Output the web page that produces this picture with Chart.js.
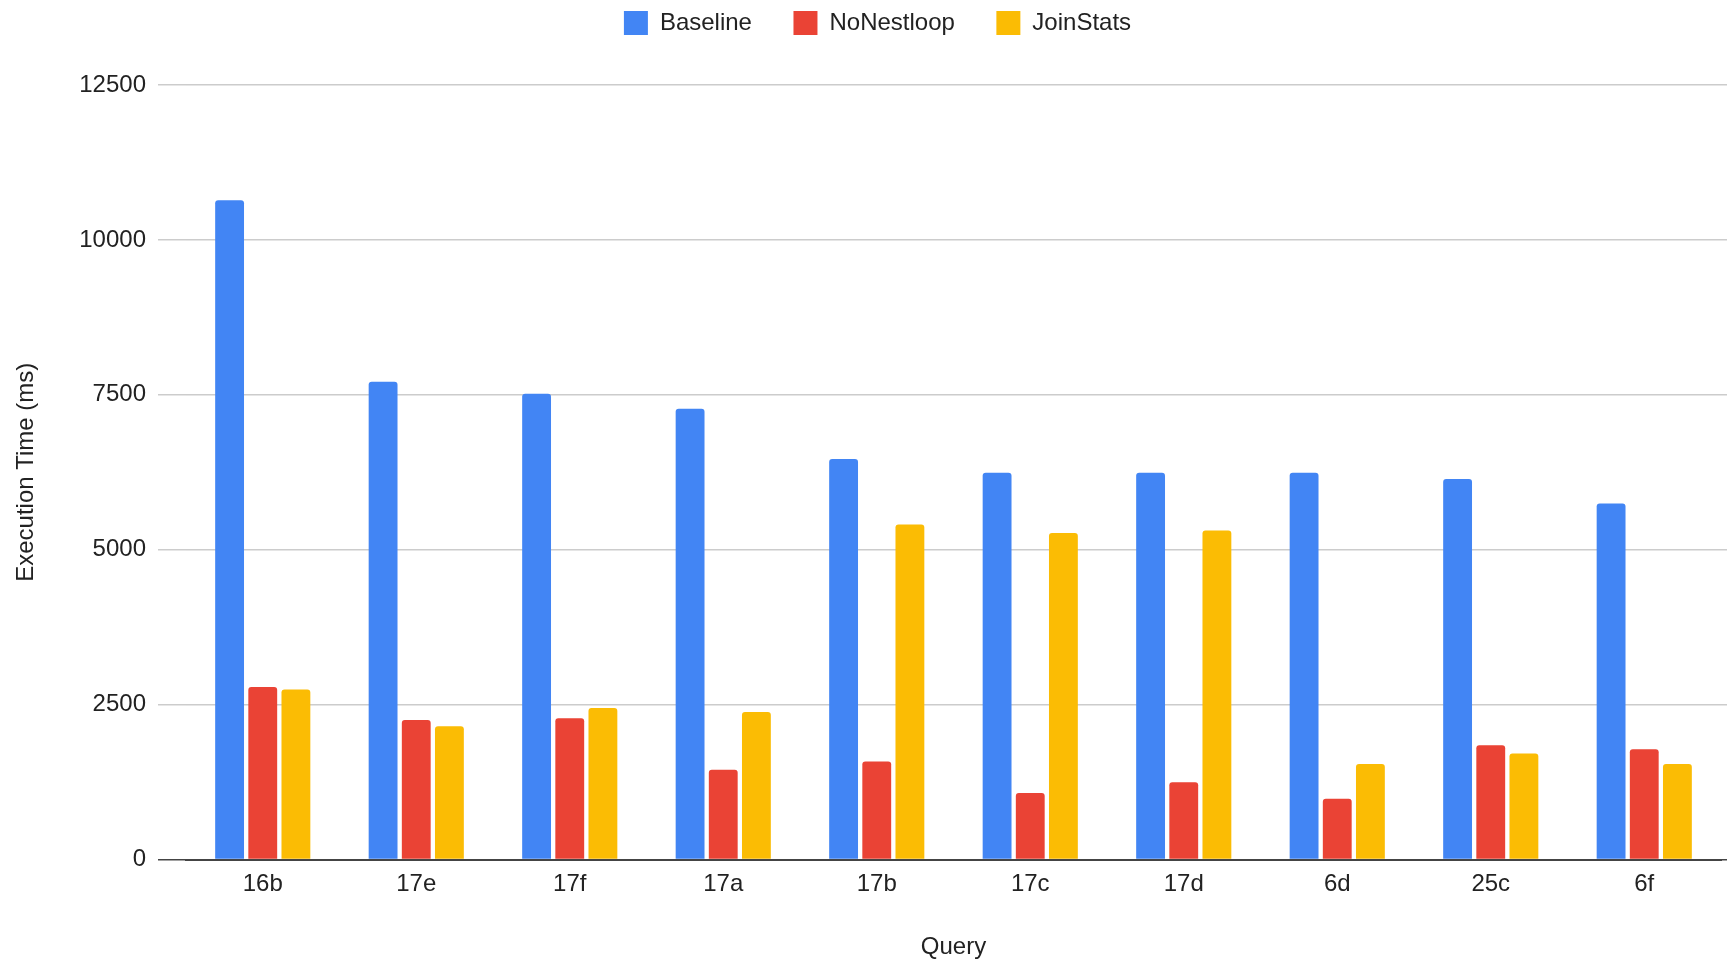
<!DOCTYPE html>
<html>
<head>
<meta charset="utf-8">
<script src="https://cdn.jsdelivr.net/npm/chart.js@4.4.1/dist/chart.umd.min.js"></script>
<style>
  html, body { margin: 0; padding: 0; background: #ffffff; overflow: hidden; }
  #wrap { position: relative; width: 1755px; height: 959px; }
</style>
</head>
<body>
<div id="wrap"><canvas id="c"></canvas></div>
<script>
const categories = ['16b', '17e', '17f', '17a', '17b', '17c', '17d', '6d', '25c', '6f'];
const baseline   = [10640, 7710, 7515, 7275, 6465, 6240, 6240, 6240, 6140, 5745];
const noNestloop = [2785, 2250, 2280, 1450, 1580, 1075, 1245, 980, 1845, 1780];
const joinStats  = [2745, 2150, 2445, 2380, 5405, 5270, 5310, 1540, 1710, 1540];
const seriesNames = ['Baseline', 'NoNestloop', 'JoinStats'];
const yTicks = [0, 2500, 5000, 7500, 10000, 12500];

const FONT = "'Liberation Sans', Arial, Helvetica, sans-serif";
const TEXT = '#222222';
const GRID = '#cccccc';
const AXIS = '#444444';
const colors = ['#4285F4', '#EA4335', '#FBBC04'];

const gridColor = (ctx) => (ctx.tick && ctx.tick.value === 0) ? AXIS : GRID;

function ds(label, data, color) {
  return {
    label, data,
    backgroundColor: color,
    borderWidth: 0,
    borderRadius: { topLeft: 3, topRight: 3, bottomLeft: 0, bottomRight: 0 },
    borderSkipped: false,
    categoryPercentage: 0.648,
    barPercentage: 0.87
  };
}

new Chart(document.getElementById('c'), {
  type: 'bar',
  data: {
    labels: categories,
    datasets: [
      ds(seriesNames[0], baseline, colors[0]),
      ds(seriesNames[1], noNestloop, colors[1]),
      ds(seriesNames[2], joinStats, colors[2])
    ]
  },
  options: {
    responsive: true,
    maintainAspectRatio: false,
    animation: false,
    layout: { padding: { top: -30.5, left: 0, right: 0, bottom: 0 } },
    plugins: {
      legend: {
        position: 'top',
        align: 'center',
        labels: {
          boxWidth: 24,
          boxHeight: 24,
          padding: 41.5,
          color: TEXT,
          font: { family: FONT, size: 24 }
        }
      },
      tooltip: { enabled: false }
    },
    scales: {
      x: {
        type: 'category',
        position: 'bottom',
        offset: true,
        z: 1,
        grid: { display: false, drawTicks: false },
        border: { display: true, color: AXIS, width: 2 },
        ticks: { color: TEXT, font: { family: FONT, size: 24 }, padding: 10, maxRotation: 0, autoSkip: false },
        title: { display: true, text: 'Query', color: TEXT, font: { family: FONT, size: 24 }, padding: { top: 0, bottom: -3 } },
        afterFit: (s) => { s.height = 99.5; }
      },
      xTop: {
        type: 'category',
        position: 'top',
        display: true,
        grid: { display: false, drawTicks: false },
        border: { display: false },
        ticks: { display: false },
        afterFit: (s) => { s.height = 40; }
      },
      y: {
        type: 'linear',
        position: 'left',
        min: 0,
        max: 12500,
        afterBuildTicks: (s) => { s.ticks = yTicks.map(v => ({ value: v })); },
        grid: { color: gridColor, lineWidth: 1.5, tickLength: 28, drawTicks: true },
        border: { display: false },
        ticks: { color: TEXT, font: { family: FONT, size: 24 }, padding: 12, callback: (v) => String(v) },
        title: { display: true, text: 'Execution Time (ms)', color: TEXT, font: { family: FONT, size: 24 }, padding: { top: 12, bottom: 0 } },
        afterFit: (s) => { s.width = 186; }
      },
      yRight: {
        type: 'linear',
        position: 'right',
        min: 0,
        max: 12500,
        afterBuildTicks: (s) => { s.ticks = yTicks.map(v => ({ value: v })); },
        grid: { color: gridColor, lineWidth: 1.5, tickLength: 34, drawTicks: true, drawOnChartArea: false },
        border: { display: false },
        ticks: { display: false },
        afterFit: (s) => { s.width = 34; }
      }
    }
  }
});
</script>
</body>
</html>
